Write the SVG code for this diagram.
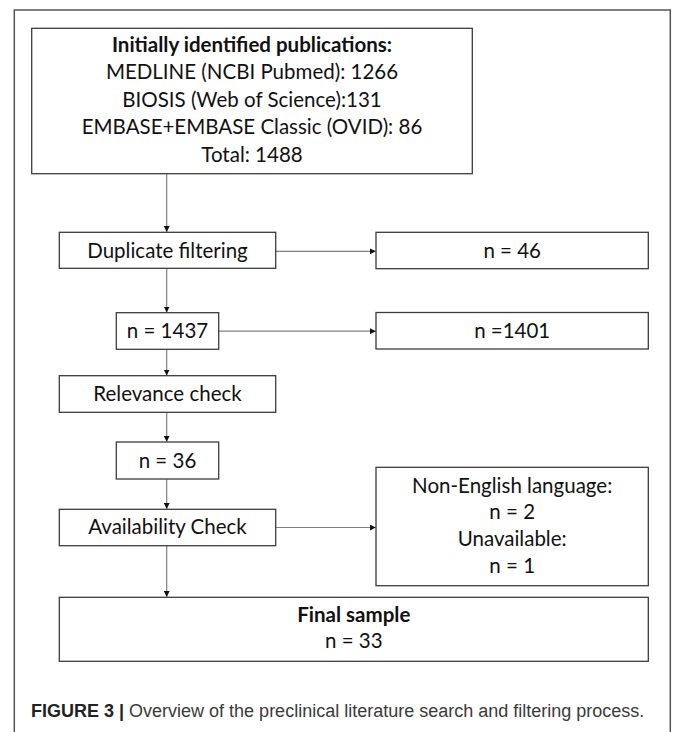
<svg xmlns="http://www.w3.org/2000/svg" width="673" height="732" viewBox="0 0 673 732">
<style>
.box{fill:#ffffff;stroke:#3c3c3c;stroke-width:1.3}
.t{font-family:Lato,"Open Sans","Liberation Sans",sans-serif;font-size:20.5px;fill:#111;text-anchor:middle}
.b{font-weight:bold}
.c{fill:none;stroke:#808080;stroke-width:1.2}
.cap{font-family:"Liberation Sans",Arial,sans-serif;font-size:18px;fill:#3a3a3a}
</style>
<defs>
<marker id="ah" viewBox="0 0 6 6" refX="6" refY="3" markerWidth="6" markerHeight="6" markerUnits="userSpaceOnUse" orient="auto">
<path d="M0,0 L6,3 L0,6 Z" fill="#111"/>
</marker>
</defs>
<rect width="673" height="732" fill="#ffffff"/>
<rect x="14.3" y="10" width="656" height="740" fill="none" stroke="#555" stroke-width="1.5"/>
<g id="connectors">
<line class="c" x1="166.7" y1="173.7" x2="166.7" y2="232" marker-end="url(#ah)"/>
<line class="c" x1="166.7" y1="268.3" x2="166.7" y2="312.5" marker-end="url(#ah)"/>
<line class="c" x1="166.7" y1="349.3" x2="166.7" y2="375.5" marker-end="url(#ah)"/>
<line class="c" x1="166.7" y1="412.3" x2="166.7" y2="441.8" marker-end="url(#ah)"/>
<line class="c" x1="166.7" y1="479" x2="166.7" y2="509" marker-end="url(#ah)"/>
<line class="c" x1="166.7" y1="545.7" x2="166.7" y2="597" marker-end="url(#ah)"/>
<line class="c" x1="275.7" y1="251.3" x2="375.8" y2="251.3" marker-end="url(#ah)"/>
<line class="c" x1="218.7" y1="331.2" x2="375.8" y2="331.2" marker-end="url(#ah)"/>
<line class="c" x1="275.7" y1="527.5" x2="375.8" y2="527.5" marker-end="url(#ah)"/>
</g>
<g id="initial">
<rect class="box" x="31.7" y="28.3" width="440.6" height="145.4"/>
<text class="t b" x="252" y="51.7">Initially identified publications:</text>
<text class="t" x="252" y="79.2">MEDLINE (NCBI Pubmed): 1266</text>
<text class="t" x="252" y="106.7">BIOSIS (Web of Science):131</text>
<text class="t" x="252" y="134.2">EMBASE+EMBASE Classic (OVID): 86</text>
<text class="t" x="252" y="161.7">Total: 1488</text>
</g>
<g id="duplicate">
<rect class="box" x="59.3" y="232.3" width="216.4" height="36"/>
<text class="t" x="167.5" y="258.3">Duplicate filtering</text>
</g>
<g id="n46">
<rect class="box" x="376" y="232.3" width="272.3" height="36.4"/>
<text class="t" x="512.2" y="257.9">n = 46</text>
</g>
<g id="n1437">
<rect class="box" x="116.3" y="312.7" width="102.4" height="36.6"/>
<text class="t" x="167.5" y="338.3">n = 1437</text>
</g>
<g id="n1401">
<rect class="box" x="376" y="312.5" width="272.3" height="36.5"/>
<text class="t" x="512.2" y="338.3">n =1401</text>
</g>
<g id="relevance">
<rect class="box" x="59.3" y="375.7" width="216.4" height="36.6"/>
<text class="t" x="167.5" y="400.8">Relevance check</text>
</g>
<g id="n36">
<rect class="box" x="116.3" y="442" width="102.4" height="37"/>
<text class="t" x="167.5" y="468.3">n = 36</text>
</g>
<g id="availability">
<rect class="box" x="59.3" y="509.3" width="216.4" height="36.4"/>
<text class="t" x="167.5" y="534.3">Availability Check</text>
</g>
<g id="excluded">
<rect class="box" x="376" y="467.3" width="272.3" height="118.4"/>
<text class="t" x="512.2" y="492.8">Non-English language:</text>
<text class="t" x="512.2" y="519.3">n = 2</text>
<text class="t" x="512.2" y="545.8">Unavailable:</text>
<text class="t" x="512.2" y="572.8">n = 1</text>
</g>
<g id="final">
<rect class="box" x="59.3" y="597.3" width="589" height="64"/>
<text class="t b" x="353.8" y="621.7">Final sample</text>
<text class="t" x="353.8" y="648.3">n = 33</text>
</g>
<text class="cap" x="31" y="716.7"><tspan font-weight="bold" fill="#222">FIGURE 3 |</tspan> Overview of the preclinical literature search and filtering process.</text>
</svg>
